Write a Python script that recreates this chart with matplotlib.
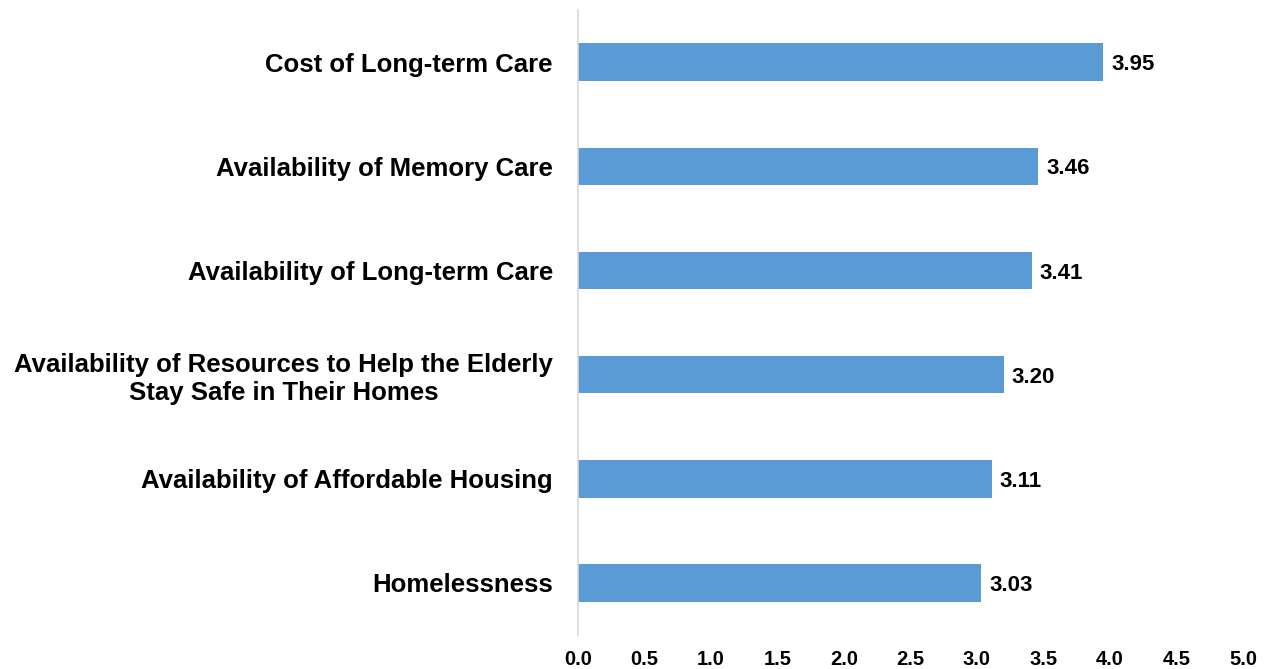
import matplotlib.pyplot as plt

# survey scores, listed top to bottom
issues = [
    "Cost of Long-term Care",
    "Availability of Memory Care",
    "Availability of Long-term Care",
    "Availability of Resources to Help the Elderly\nStay Safe in Their Homes",
    "Availability of Affordable Housing",
    "Homelessness",
]
scores = [3.95, 3.46, 3.41, 3.20, 3.11, 3.03]
x_ticks = [0.0, 0.5, 1.0, 1.5, 2.0, 2.5, 3.0, 3.5, 4.0, 4.5, 5.0]

plt.rcParams["font.family"] = ["Liberation Sans", "DejaVu Sans"]
plt.rcParams["font.weight"] = "bold"

fig = plt.figure(figsize=(12.68, 6.69), dpi=100)
ax = fig.add_axes([0.4558, 0.0508, 0.5245, 0.934])

pos = list(range(len(issues)))[::-1]
bars = ax.barh(pos, scores, height=0.36, color="#5B9BD5")

for b, v in zip(bars, scores):
    ax.text(b.get_width() + 0.06, b.get_y() + b.get_height() / 2, f"{v:.2f}",
            va="center_baseline", ha="left", fontsize=16, fontweight="bold")

ax.set_xlim(0, 5)
ax.set_ylim(-0.5, len(issues) - 0.5)
ax.set_xticks(x_ticks)
ax.set_xticklabels([f"{t:.1f}" for t in x_ticks], fontsize=14.5, fontweight="bold")
ax.set_yticks(pos)
ax.set_yticklabels(issues, fontsize=18.5, fontweight="bold", multialignment="center")
ax.tick_params(axis="x", length=0, pad=10.5)
ax.tick_params(axis="y", length=0, pad=18)

for s in ["top", "right", "bottom"]:
    ax.spines[s].set_visible(False)
ax.spines["left"].set_color("#D9D9D9")
ax.spines["left"].set_linewidth(1.2)

fig.savefig("out.png", dpi=100)
